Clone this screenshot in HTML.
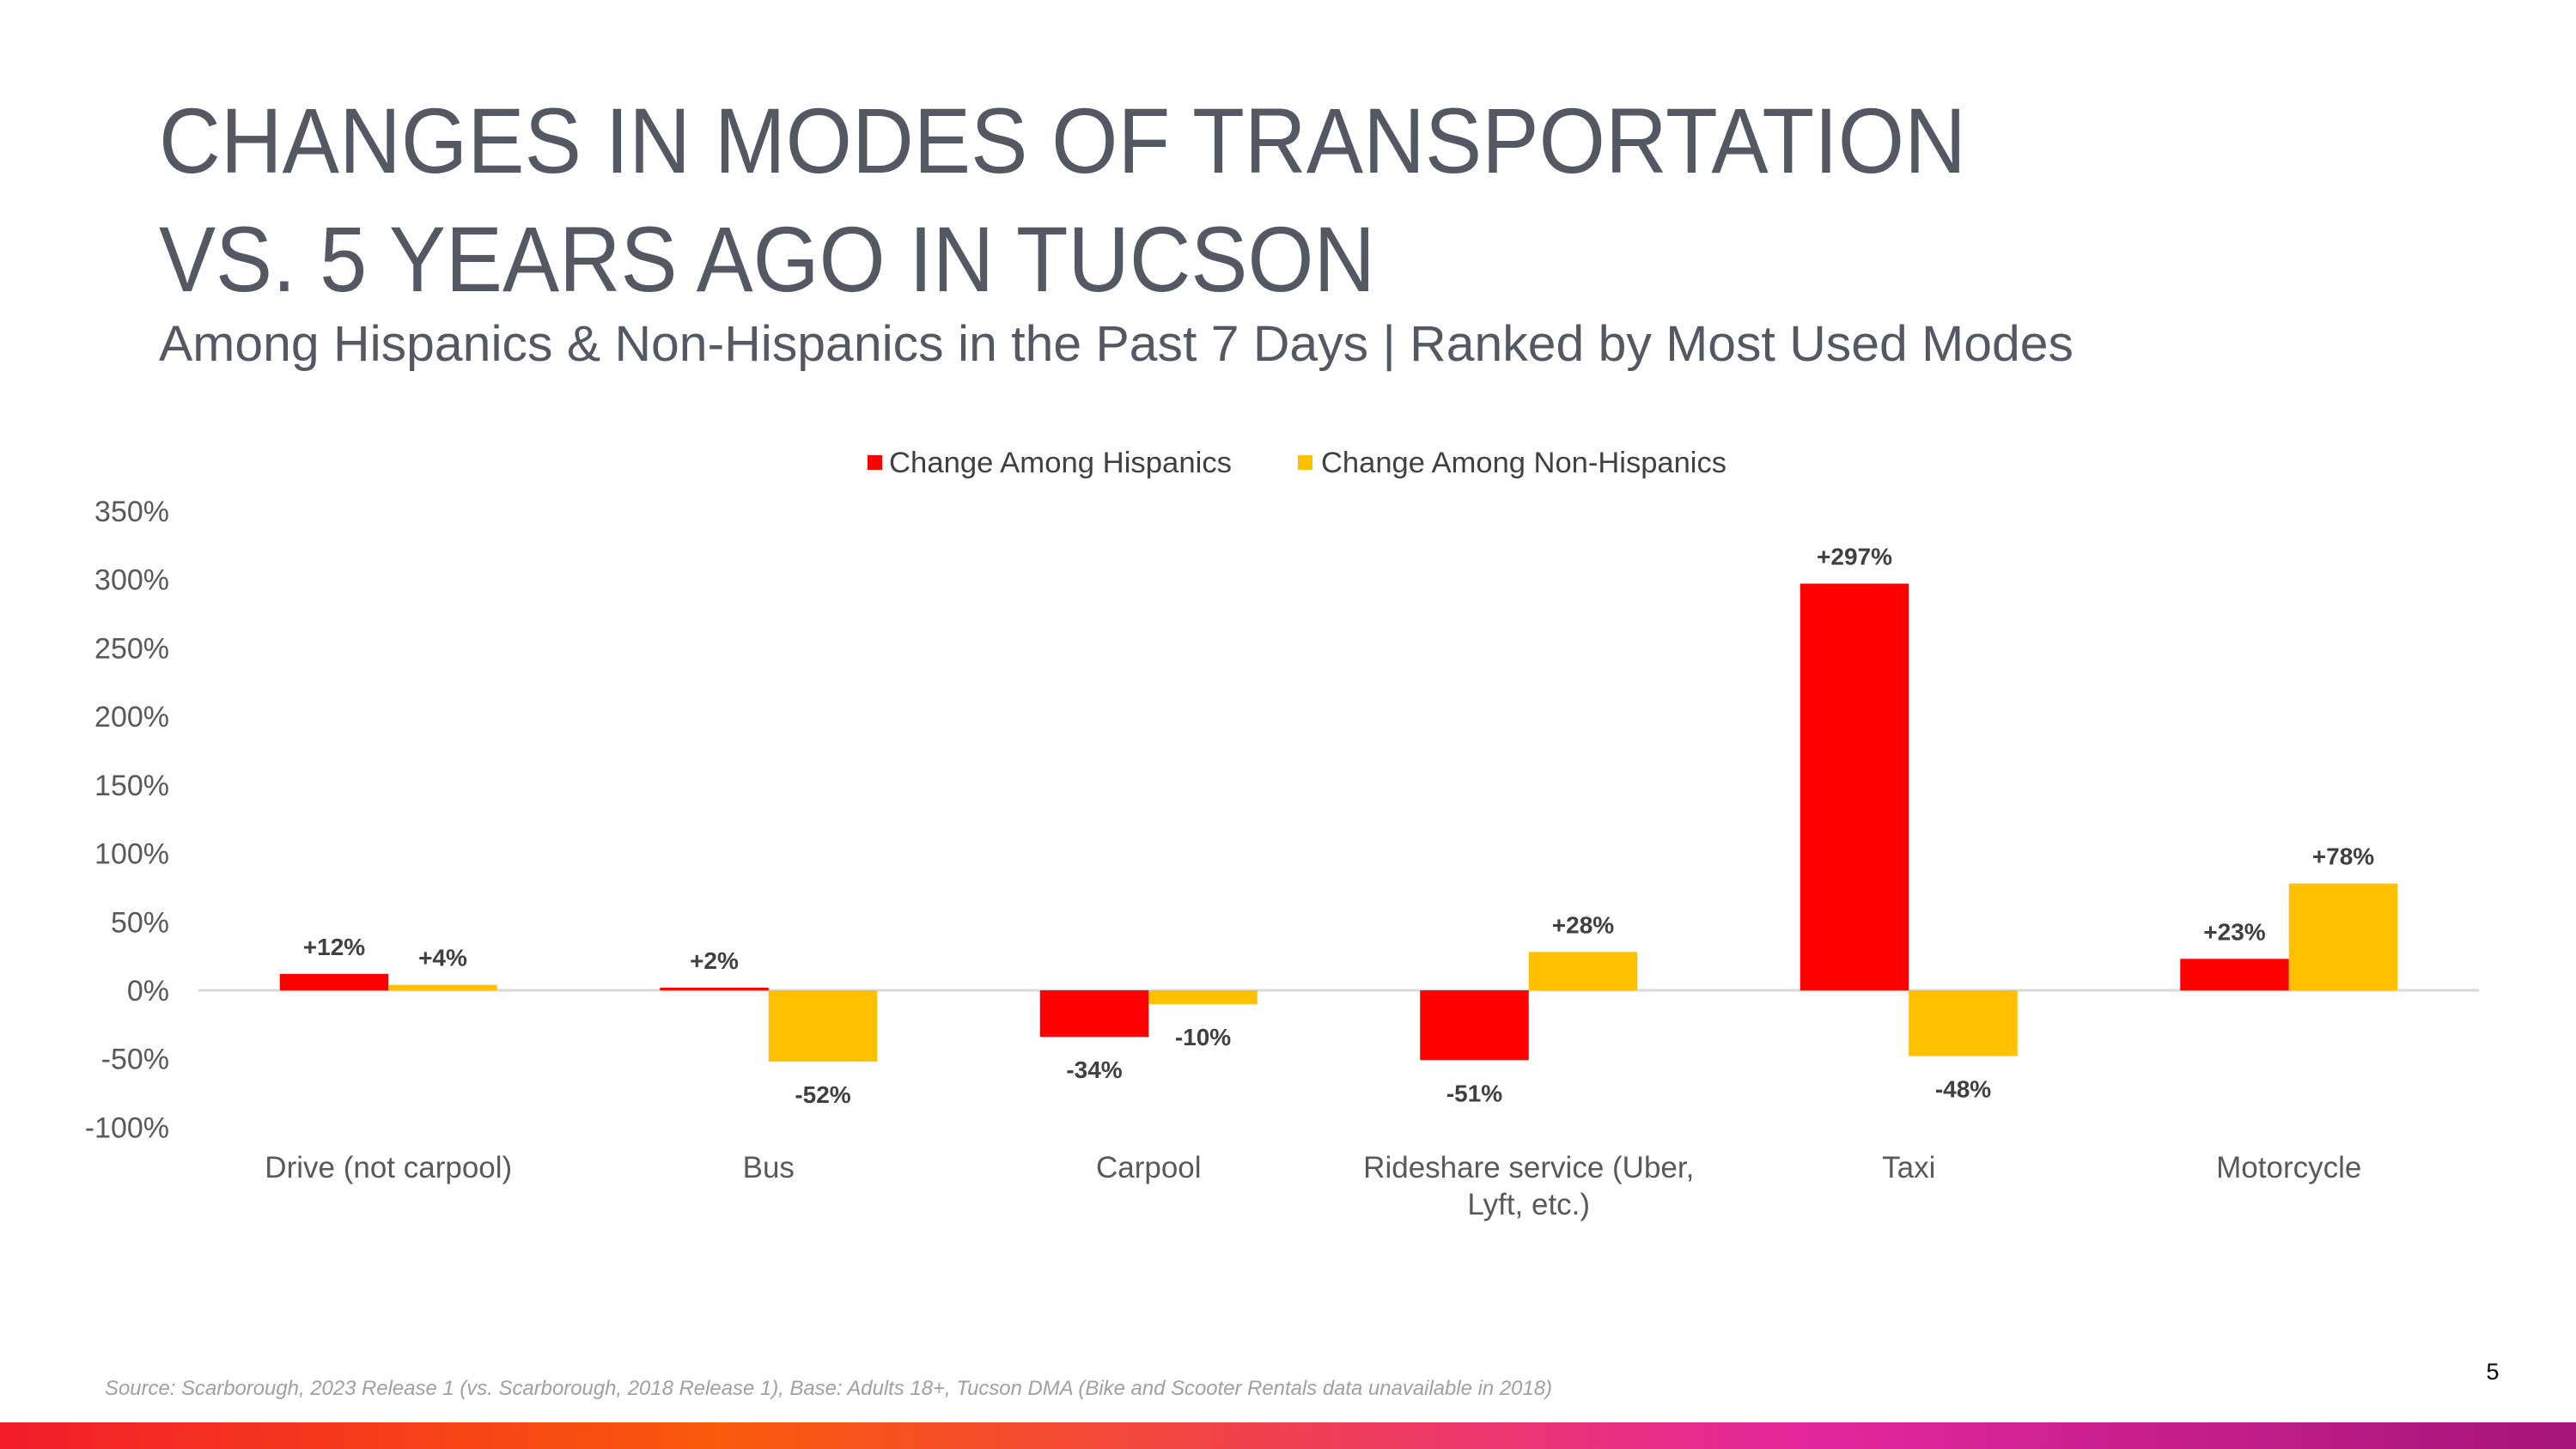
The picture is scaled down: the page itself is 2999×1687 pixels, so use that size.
<!DOCTYPE html>
<html><head><meta charset="utf-8"><style>
html,body{margin:0;padding:0;background:#fff;}
svg{display:block;}
text{font-family:"Liberation Sans",sans-serif;}
</style></head><body>
<svg id="chart" width="2999" height="1687" viewBox="0 0 2999 1687" xmlns="http://www.w3.org/2000/svg">
<defs>
<linearGradient id="grad" x1="0" x2="1" y1="0" y2="0">
<stop offset="0" stop-color="#f21d2a"/>
<stop offset="0.28" stop-color="#f95a0c"/>
<stop offset="0.45" stop-color="#f2463f"/>
<stop offset="0.70" stop-color="#e3279c"/>
<stop offset="1" stop-color="#a5157a"/>
</linearGradient>
</defs>
<text x="185" y="201" font-size="108" fill="#545862" textLength="2104" lengthAdjust="spacingAndGlyphs">CHANGES IN MODES OF TRANSPORTATION</text>
<text x="185" y="339" font-size="108" fill="#545862" textLength="1416" lengthAdjust="spacingAndGlyphs">VS. 5 YEARS AGO IN TUCSON</text>
<text x="185" y="420" font-size="58" fill="#545862" textLength="2229" lengthAdjust="spacingAndGlyphs">Among Hispanics &amp; Non-Hispanics in the Past 7 Days | Ranked by Most Used Modes</text>
<g>
<rect x="1010" y="530" width="17" height="17" fill="#ff0000"/>
<text x="1035" y="550" font-size="34" fill="#404040" textLength="399" lengthAdjust="spacingAndGlyphs">Change Among Hispanics</text>
<rect x="1511" y="530" width="17" height="17" fill="#ffc000"/>
<text x="1538" y="550" font-size="34" fill="#404040" textLength="472" lengthAdjust="spacingAndGlyphs">Change Among Non-Hispanics</text>
</g>
<g id="plot"></g>
<text x="122" y="1624" font-size="24" font-style="italic" fill="#a0a0a0" textLength="1685" lengthAdjust="spacingAndGlyphs">Source: Scarborough, 2023 Release 1 (vs. Scarborough, 2018 Release 1), Base: Adults 18+, Tucson DMA (Bike and Scooter Rentals data unavailable in 2018)</text>
<text x="2902" y="1606" font-size="27" fill="#000" text-anchor="middle">5</text>
<rect x="0" y="1656" width="2999" height="31" fill="url(#grad)"/>
</svg>
<script>
const categories = [["Drive (not carpool)"],["Bus"],["Carpool"],["Rideshare service (Uber,","Lyft, etc.)"],["Taxi"],["Motorcycle"]];
const hispanics = [12, 2, -34, -51, 297, 23];
const nonHispanics = [4, -52, -10, 28, -48, 78];
const yTicks = [-100, -50, 0, 50, 100, 150, 200, 250, 300, 350];
const yTickLabels = ["-100%","-50%","0%","50%","100%","150%","200%","250%","300%","350%"];

const NS = "http://www.w3.org/2000/svg";
const g = document.getElementById("plot");
const x0 = 231, x1 = 2886, yZero = 1153, pxPer = (1153 - 595) / 350;
const y = v => yZero - v * pxPer;
const step = (x1 - x0) / categories.length;
const cx = i => x0 + step * (i + 0.5);
const bw = 126.5;
function mk(tag, attrs, txt) {
  const e = document.createElementNS(NS, tag);
  for (const k in attrs) e.setAttribute(k, attrs[k]);
  if (txt !== undefined) e.textContent = txt;
  g.appendChild(e);
  return e;
}
yTicks.forEach((t, i) => {
  const e = mk("text", {x: 197, y: y(t) + 12, "font-size": 34, fill: "#595959", "text-anchor": "end"}, yTickLabels[i]);
  
  
});
const axis = mk("line", {x1: x0, x2: x1, y1: yZero, y2: yZero, stroke: "#d9d9d9", "stroke-width": 3});


function fmt(v) { return (v > 0 ? "+" : "") + v + "%"; }
function bar(v, left, color, name) {
  const top = Math.min(y(v), yZero), h = Math.abs(y(v) - yZero);
  const r = mk("rect", {x: left, y: top, width: bw, height: Math.max(h, 2), fill: color});
  
  
  const ly = v >= 0 ? y(v) - 22 : y(v) + 48;
  const t = mk("text", {x: left + bw / 2, y: ly, "font-size": 28, "font-weight": "bold", fill: "#404040", "text-anchor": "middle"}, fmt(v));
  
  
}
categories.forEach((c, i) => {
  bar(hispanics[i], cx(i) - bw, "#ff0000", "bar-hispanics");
  bar(nonHispanics[i], cx(i), "#ffc000", "bar-non-hispanics");
  c.forEach((line, j) => {
    const t = mk("text", {x: cx(i), y: 1371 + j * 43, "font-size": 35, fill: "#595959", "text-anchor": "middle"}, line);
    
    
  });
});
</script>
</body></html>
